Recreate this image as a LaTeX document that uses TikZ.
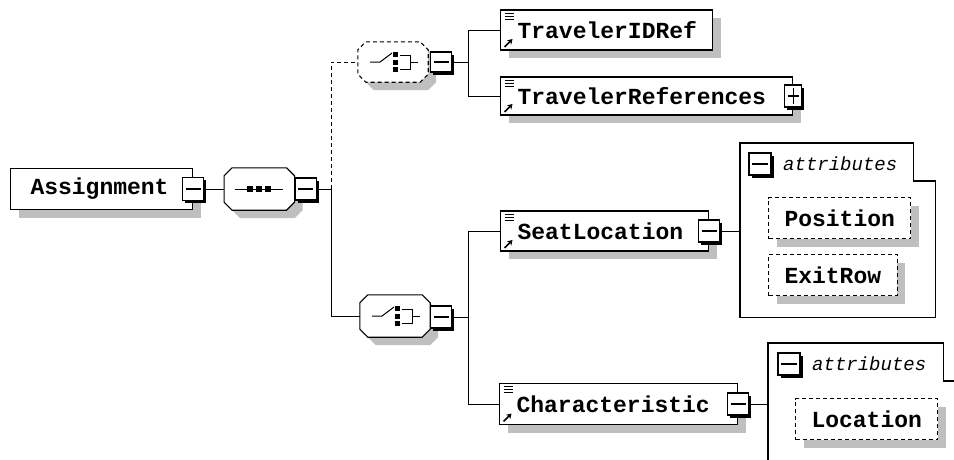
\documentclass[tikz,border=0pt]{standalone}
\usepackage{fontspec}
\setmonofont{Liberation Mono}
\usetikzlibrary{arrows.meta, positioning, shadows, backgrounds}

\begin{document}
\begin{tikzpicture}[
  x=1pt, y=-1pt,
  every node/.style={font=\ttfamily\bfseries\fontsize{23}{26}\selectfont},
  wire/.style={line width=1.1pt},
  optional/.style={dash pattern=on 4pt off 3pt},
  grayshadow/.style={drop shadow={shadow xshift=8pt, shadow yshift=-8pt,
               fill=black!25, opacity=1}},
  elem/.style={draw, fill=white, line width=1.1pt, anchor=west, align=left,
               inner xsep=17pt, inner ysep=0pt, minimum height=40pt, grayshadow},
  refelem/.style={elem, path picture={
      \draw[line width=0.9pt]
        ([xshift=4pt,yshift=-3pt]path picture bounding box.north west) -- ++(9pt,0pt)
        ([xshift=4pt,yshift=-6pt]path picture bounding box.north west) -- ++(9pt,0pt)
        ([xshift=4pt,yshift=-9pt]path picture bounding box.north west) -- ++(9pt,0pt);
      \draw[line width=1.6pt, -{Stealth[length=5pt,width=6pt]}]
        ([xshift=4pt,yshift=3pt]path picture bounding box.south west) -- ++(8pt,8pt);}},
  toggle/.style={draw, fill=white, line width=1.1pt, inner sep=0pt,
               minimum width=21pt, minimum height=22pt,
               drop shadow={shadow xshift=2.5pt, shadow yshift=-2.5pt, fill=black, opacity=1},
               path picture={\draw[line width=1.1pt]
                 ([xshift=3pt]path picture bounding box.west) --
                 ([xshift=-3pt]path picture bounding box.east);}},
  expand/.style={toggle, path picture={\draw[line width=1.1pt]
                 ([xshift=3pt]path picture bounding box.west) --
                 ([xshift=-3pt]path picture bounding box.east)
                 ([yshift=-3pt]path picture bounding box.north) --
                 ([yshift=3pt]path picture bounding box.south);}},
  compositor/.style={minimum width=70pt, minimum height=42pt, inner sep=0pt},
  % outline of a compositor, shifted by #2 for its shadow
  octagon/.style 2 args={insert path={
      ([xshift=8pt+#2,yshift=-#2]#1.north west) -- ([xshift=-8pt+#2,yshift=-#2]#1.north east)
      -- ([xshift=#2,yshift=-8pt-#2]#1.north east) -- ([xshift=#2,yshift=8pt-#2]#1.south east)
      -- ([xshift=-8pt+#2,yshift=-#2]#1.south east) -- ([xshift=8pt+#2,yshift=-#2]#1.south west)
      -- ([xshift=#2,yshift=8pt-#2]#1.south west) -- ([xshift=#2,yshift=-8pt-#2]#1.north west)
      -- cycle}},
  attr/.style={draw, optional, fill=white, line width=1pt,
               anchor=west, inner xsep=16pt, inner ysep=0pt, minimum height=41pt, grayshadow},
  group/.style={inner sep=0pt, anchor=north west},
  grouplabel/.style={anchor=west, inner sep=0pt,
               font=\ttfamily\itshape\mdseries\fontsize{19}{22}\selectfont}
]
  \useasboundingbox (0,0) rectangle (954,459);
  \clip (0,0) rectangle (954,459);

  % root element and sequence
  \node[elem, inner xsep=20pt, text width=142pt, minimum height=41pt] (assign) at (10,189) {Assignment};
  \node[toggle, minimum height=23pt] (assignT) at (assign.east) {};
  \node[compositor, right=20pt of assignT] (seq) {};
  \node[compositor, minimum height=40pt] (choiceA) at (393,62) {};
  \node[compositor] (choiceB) at (395,316) {};

  \foreach \c/\sty in {seq/solid, choiceA/optional, choiceB/solid} {
    \fill[black!25, octagon={\c}{8pt}];
    \draw[wire, fill=white, \sty, octagon={\c}{0pt}];
  }
  % sequence symbol
  \draw[line width=1pt] ([xshift=-24pt]seq.center) -- ([xshift=24pt]seq.center);
  \foreach \dx in {-9,0,9}
    \fill ([xshift=\dx pt-3pt,yshift=3pt]seq.center) rectangle ++(6pt,-6pt);
  % choice symbols
  \foreach \c in {choiceA, choiceB} {
    \draw[line width=1pt] ([xshift=-23pt]\c.center) -- ([xshift=-13pt]\c.center)
      -- ([xshift=-1pt,yshift=9pt]\c.center);
    \fill ([yshift=10pt]\c.center) rectangle ([xshift=5pt,yshift=5pt]\c.center);
    \fill ([yshift=2.5pt]\c.center) rectangle ([xshift=5pt,yshift=-2.5pt]\c.center);
    \fill ([yshift=-5pt]\c.center) rectangle ([xshift=5pt,yshift=-10pt]\c.center);
    \draw[line width=1pt] ([xshift=7pt,yshift=7pt]\c.center) -- ([xshift=17pt,yshift=7pt]\c.center)
      -- ([xshift=17pt,yshift=-7pt]\c.center) -- ([xshift=7pt,yshift=-7pt]\c.center)
      ([xshift=17pt]\c.center) -- ([xshift=25pt]\c.center);
  }

  \node[toggle, anchor=west] (seqT) at (seq.east) {};
  \node[toggle, minimum height=20pt] (choiceAT) at (441,62) {};
  \node[toggle] (choiceBT) at (441,317) {};
  \coordinate (trunk) at (331,189);
  \coordinate (forkA) at (468,62);
  \coordinate (forkB) at (468,317);

  % child elements
  \node[refelem, text width=178pt] (idref) at (500,30) {TravelerIDRef};
  \node[refelem, text width=258pt, minimum height=38pt] (refs) at (500,96) {TravelerReferences};
  \node[expand, minimum width=17pt] (refsT) at (refs.east) {};
  \node[refelem, text width=174pt] (seatloc) at (500,231) {SeatLocation};
  \node[toggle] (seatlocT) at (seatloc.east) {};
  \node[refelem, text width=204pt, minimum height=41pt] (charac) at (499,404) {Characteristic};
  \node[toggle] (characT) at (charac.east) {};

  % attribute groups
  \node[group, minimum width=195pt, minimum height=174pt] (attrsA) at (740,143) {};
  \draw[wire] (attrsA.north west) -- ([xshift=-22pt]attrsA.north east)
    |- ([yshift=-38pt]attrsA.north east) |- (attrsA.south west) -- cycle;
  \node[toggle, minimum width=22pt] (attrsAT) at (760,164) {};
  \node[grouplabel] (attrsAL) at (783,164) {attributes};
  \node[attr] (position) at (768,218) {Position};
  \node[attr] (exitrow) at (768,275) {ExitRow};

  \node[group, minimum width=196pt, minimum height=140pt] (attrsB) at (768,343) {};
  \draw[wire] (attrsB.north west) -- ([xshift=-21pt]attrsB.north east)
    |- ([yshift=-38pt]attrsB.north east) |- (attrsB.south west) -- cycle;
  \node[toggle, minimum width=22pt] (attrsBT) at (789,364) {};
  \node[grouplabel] (attrsBL) at (812,364) {attributes};
  \node[attr] (location) at (795,419) {Location};

  % connectors
  \begin{scope}[on background layer, wire]
    \draw (assignT) -- (seq);
    \draw (seqT) -- (trunk);
    \draw[optional] (trunk) |- (choiceA);
    \draw (trunk) |- (choiceB);
    \draw (choiceAT) -- (forkA);
    \draw (forkA) |- (idref);
    \draw (forkA) |- (refs);
    \draw (choiceBT) -- (forkB);
    \draw (forkB) |- (seatloc);
    \draw (forkB) |- (charac);
    \draw (seatlocT) -- (seatlocT -| attrsA.west);
    \draw (characT) -- (characT -| attrsB.west);
  \end{scope}
\end{tikzpicture}
\end{document}
